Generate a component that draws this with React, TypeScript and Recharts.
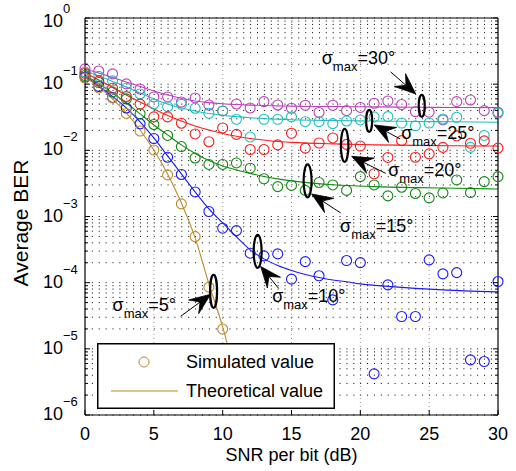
import React from 'react';
import {
  ComposedChart, Line, Scatter, XAxis, YAxis, ReferenceLine, ReferenceDot, Legend,
} from 'recharts';

const FONT = '"Liberation Sans", Arial, Helvetica, sans-serif';

// SNR grid of the simulated points (dB)
const snrSim = [0, 1, 2, 3, 4, 5, 6, 7, 8, 9, 10, 11, 12, 13, 14, 15, 16, 17, 18, 19, 20, 21, 22, 23, 24, 25, 26, 27, 28, 29, 30];
const snrSim5 = [0, 1, 2, 3, 4, 5, 6, 7, 8, 9, 10];

// simulated BER, one list per sigma_max
const sim30 = [0.170, 0.158, 0.143, 0.101, 0.0846, 0.0641, 0.0641, 0.0538, 0.0619, 0.0485, 0.0394, 0.0502, 0.0437, 0.0544, 0.0485, 0.0433, 0.0480, 0.0374, 0.0480, 0.0398, 0.0445, 0.0514, 0.0557, 0.0493, 0.0385, 0.0377, 0.0288, 0.0544, 0.0577, 0.0398, 0.0377];
const sim25 = [0.153, 0.131, 0.112, 0.0867, 0.0711, 0.0502, 0.0457, 0.0497, 0.0433, 0.0363, 0.0394, 0.0295, 0.0159, 0.0295, 0.0295, 0.0320, 0.0271, 0.0271, 0.0253, 0.0278, 0.0288, 0.0320, 0.0323, 0.0259, 0.0235, 0.0259, 0.0298, 0.0316, 0.0111, 0.0168, 0.0363];
const sim20 = [0.146, 0.112, 0.0867, 0.0652, 0.0499, 0.0320, 0.0320, 0.0257, 0.0177, 0.0135, 0.0218, 0.0174, 0.0103, 0.0103, 0.0121, 0.0181, 0.0108, 0.0129, 0.0154, 0.0123, 0.0116, 0.00443, 0.00781, 0.0140, 0.00787, 0.00883, 0.0111, 0.0165, 0.0128, 0.0139, 0.0108];
const sim15 = [0.135, 0.106, 0.0762, 0.0598, 0.0357, 0.0246, 0.0168, 0.0114, 0.00767, 0.00612, 0.00612, 0.00645, 0.00537, 0.00372, 0.00283, 0.00295, 0.00248, 0.00327, 0.00300, 0.00248, 0.00401, 0.00300, 0.00205, 0.00277, 0.00223, 0.00191, 0.00227, 0.00357, 0.00230, 0.00337, 0.00401];
const sim10 = [0.127, 0.0923, 0.0630, 0.0437, 0.0252, 0.0151, 0.00787, 0.00432, 0.00235, 0.00119, 0.000666, 0.000612, 0.000279, 0.000254, 0.000272, 0.000113, 0.000208, 0.000127, 5.5e-5, 0.000216, 0.000201, 4.19e-6, 9.27e-5, 3.08e-5, 3.08e-5, 0.000221, 0.000136, 0.000142, 6.82e-6, 6.43e-6, 0.000104];
const sim5 = [0.124, 0.0877, 0.0619, 0.0361, 0.0196, 0.0101, 0.00425, 0.00155, 0.000497, 8.55e-5, 1.99e-5];

// theoretical curves
const snrTh = [0, 1, 2, 3, 4, 5, 6, 7, 8, 9, 10, 11, 12, 13, 14, 15, 18, 21, 24, 27, 30];
const th30 = [0.170, 0.148, 0.126, 0.108, 0.0923, 0.0789, 0.0687, 0.0608, 0.0557, 0.0526, 0.0506, 0.0492, 0.0482, 0.0475, 0.0470, 0.0465, 0.0459, 0.0453, 0.0448, 0.0445, 0.0442];
const th25 = [0.158, 0.133, 0.110, 0.0908, 0.0736, 0.0598, 0.0502, 0.0437, 0.0394, 0.0361, 0.0339, 0.0323, 0.0311, 0.0302, 0.0296, 0.0290, 0.0282, 0.0277, 0.0273, 0.0270, 0.0266];
const th20 = [0.148, 0.116, 0.0891, 0.0687, 0.0538, 0.0422, 0.0337, 0.0278, 0.0234, 0.0203, 0.0180, 0.0163, 0.0151, 0.0143, 0.0136, 0.0132, 0.0125, 0.0121, 0.0119, 0.0117, 0.0116];
const th15 = [0.138, 0.101, 0.0736, 0.0520, 0.0355, 0.0242, 0.0171, 0.0121, 0.00898, 0.00704, 0.00581, 0.00506, 0.00448, 0.00403, 0.00370, 0.00345, 0.00302, 0.00283, 0.00273, 0.00267, 0.00261];
const snrTh10 = [0, 1, 2, 3, 4, 5, 6, 7, 8, 9, 10, 11, 12, 13, 14, 15, 16, 17, 18, 19, 20, 22, 24, 26, 28, 30];
const th10 = [0.133, 0.0940, 0.0652, 0.0437, 0.0269, 0.0154, 0.00823, 0.00440, 0.00235, 0.00130, 0.000800, 0.000492, 0.000313, 0.000229, 0.000182, 0.000153, 0.000133, 0.000120, 0.000110, 0.000103, 9.59e-5, 8.79e-5, 8.20e-5, 7.78e-5, 7.46e-5, 7.26e-5];
const snrTh5 = [0, 1, 2, 3, 4, 5, 6, 7, 8, 9, 10, 11];
const th5 = [0.128, 0.0908, 0.0598, 0.0367, 0.0203, 0.0101, 0.00440, 0.00160, 0.000475, 9.59e-5, 2.15e-5, 3.4e-6];

const xTicks = [0, 5, 10, 15, 20, 25, 30];
const decades = [1e-6, 1e-5, 1e-4, 1e-3, 1e-2, 1e-1, 1];
const minorSteps = [2, 3, 4, 5, 6, 7, 8, 9];
const legendLabels = ['Simulated value', 'Theoretical value'];

const yTicks: number[] = [];
decades.forEach((d, i) => {
  yTicks.push(d);
  if (i < decades.length - 1) minorSteps.forEach((m) => yTicks.push(d * m));
});

const zip = (xs: number[], ys: number[]) => ys.map((y, i) => ({ x: xs[i], y }));

const series = [
  { key: '30', color: '#bf3fbf', sim: zip(snrSim, sim30), th: zip(snrTh, th30) },
  { key: '25', color: '#1fbfbf', sim: zip(snrSim, sim25), th: zip(snrTh, th25) },
  { key: '20', color: '#ff1a1a', sim: zip(snrSim, sim20), th: zip(snrTh, th20) },
  { key: '15', color: '#108a10', sim: zip(snrSim, sim15), th: zip(snrTh, th15) },
  { key: '10', color: '#1a1aff', sim: zip(snrSim, sim10), th: zip(snrTh10, th10) },
  { key: '5', color: '#bf8a2a', sim: zip(snrSim5, sim5), th: zip(snrTh5, th5) },
];

// annotation anchors (SNR, BER) with pixel offsets for arrow and label
const notes = [
  { label: '=30°', x: 24.46, y: 0.0469, rx: 3, ry: 11, tail: [-31, -34], tip: [-6, -12], text: [-100, -42] },
  { label: '=25°', x: 20.64, y: 0.0278, rx: 3, ry: 11, tail: [31, 18], tip: [5, 4], text: [32, 18] },
  { label: '=20°', x: 18.86, y: 0.0119, rx: 3.8, ry: 16.5, tail: [41, 28], tip: [7, 11], text: [43.5, 30.5] },
  { label: '=15°', x: 16.17, y: 0.00345, rx: 4, ry: 16.5, tail: [33, 32], tip: [4, 13], text: [32.5, 51] },
  { label: '=10°', x: 12.54, y: 0.000297, rx: 4, ry: 16.5, tail: [21, 37], tip: [3, 15], text: [14.5, 50.5] },
  { label: '=5°', x: 9.34, y: 7.39e-5, rx: 3.5, ry: 16.5, tail: [-33, 25], tip: [-3, 3], text: [-101, 19.5] },
];

const isDecade = (v: number) => Math.abs(Math.log10(v) - Math.round(Math.log10(v))) < 1e-6;

function Arrow({ x1, y1, x2, y2 }: { x1: number; y1: number; x2: number; y2: number }) {
  const dx = x2 - x1;
  const dy = y2 - y1;
  const len = Math.hypot(dx, dy);
  const ux = dx / len;
  const uy = dy / len;
  const px = -uy;
  const py = ux;
  const L = 21;
  const W = 8.5;
  const bx = x2 - L * ux;
  const by = y2 - L * uy;
  const nx = x2 - L * 0.62 * ux;
  const ny = y2 - L * 0.62 * uy;
  const pts = `${x2},${y2} ${bx + W * px},${by + W * py} ${nx},${ny} ${bx - W * px},${by - W * py}`;
  return (
    <g>
      <line x1={x1} y1={y1} x2={nx} y2={ny} stroke="#000" strokeWidth={1} />
      <polygon points={pts} fill="#000" stroke="#000" strokeWidth={0.8} strokeLinejoin="miter" />
    </g>
  );
}

const makeNote = (n: typeof notes[number]) => (props: any) => {
  const { cx, cy } = props;
  if (cx == null || cy == null) return <g />;
  return (
    <g>
      <ellipse cx={cx} cy={cy} rx={n.rx} ry={n.ry} fill="none" stroke="#000" strokeWidth={2.2} />
      <Arrow x1={cx + n.tail[0]} y1={cy + n.tail[1]} x2={cx + n.tip[0]} y2={cy + n.tip[1]} />
      <text x={cx + n.text[0]} y={cy + n.text[1]} fontSize={18} fontFamily={FONT} fill="#000">
        σ<tspan dy={7} fontSize={13}>max</tspan><tspan dy={-7}>{n.label}</tspan>
      </text>
    </g>
  );
};

const LeftTick = ({ x, y, payload }: any) => {
  const v = payload.value;
  const major = isDecade(v);
  const exp = Math.round(Math.log10(v));
  return (
    <g>
      <line x1={x} x2={x + (major ? 5 : 3)} y1={y} y2={y} stroke="#000" strokeWidth={1} />
      {major && (
        <text x={x - 42} y={y + 5 + (exp === 0 ? 4 : 0)} fontSize={18} fontFamily={FONT} fill="#000">
          10<tspan dy={-14} fontSize={13}>{exp === 0 ? '0' : `\u2212${-exp}`}</tspan>
        </text>
      )}
    </g>
  );
};

const RightTick = ({ x, y, payload }: any) => {
  const major = isDecade(payload.value);
  return <line x1={x} x2={x - (major ? 5 : 3)} y1={y} y2={y} stroke="#000" strokeWidth={1} />;
};

const BottomTick = ({ x, y, payload }: any) => (
  <g>
    <line x1={x} x2={x} y1={y} y2={y - 5} stroke="#000" strokeWidth={1} />
    <text x={x} y={y + 25} textAnchor="middle" fontSize={18} fontFamily={FONT} fill="#000">
      {payload.value}
    </text>
  </g>
);

const TopTick = ({ x, y }: any) => (
  <line x1={x} x2={x} y1={y} y2={y + 5} stroke="#000" strokeWidth={1} />
);

const LegendBox = () => (
  <svg width={238} height={66} style={{ display: 'block' }}>
    <rect x={0.75} y={0.75} width={236.5} height={64.5} fill="#fff" stroke="#000" strokeWidth={1.5} />
    <circle cx={47} cy={19} r={5} fill="none" stroke={series[5].color} strokeWidth={1} />
    <text x={89} y={25} fontSize={18} fontFamily={FONT} fill="#000">{legendLabels[0]}</text>
    <line x1={14} x2={81} y1={48} y2={48} stroke={series[5].color} strokeWidth={1} />
    <text x={89} y={53.5} fontSize={18} fontFamily={FONT} fill="#000">{legendLabels[1]}</text>
  </svg>
);

export default function App() {
  return (
    <div style={{ position: 'absolute', left: 0, top: 0, background: '#fff' }}>
      <ComposedChart width={516} height={471} margin={{ top: 17, right: 17, bottom: 26, left: 0 }}>
        <XAxis
          dataKey="x" type="number" domain={[0, 30]} ticks={xTicks} interval={0}
          height={30} tickSize={0} tickMargin={0} tick={BottomTick}
          axisLine={{ stroke: '#000', strokeWidth: 1.2 }} tickLine={false}
          label={{
            content: ({ viewBox }: any) => (
              <text x={viewBox.x + viewBox.width / 2} y={viewBox.y + 46} textAnchor="middle"
                fontSize={18} fontFamily={FONT} fill="#000">SNR per bit (dB)</text>
            ),
          }}
        />
        <XAxis
          xAxisId="t" orientation="top" type="number" domain={[0, 30]} ticks={xTicks} interval={0}
          height={1} tickSize={0} tickMargin={0} tick={TopTick}
          axisLine={{ stroke: '#000', strokeWidth: 1.2 }} tickLine={false}
        />
        <YAxis
          dataKey="y" type="number" scale="log" domain={[1e-6, 1]} allowDataOverflow ticks={yTicks} interval={0}
          width={85} tickSize={0} tickMargin={0} tick={LeftTick}
          axisLine={{ stroke: '#000', strokeWidth: 1.2 }} tickLine={false}
          label={{
            content: () => (
              <text x={28} y={223} transform="rotate(-90, 28, 223)" textAnchor="middle"
                fontSize={21} fontFamily={FONT} fill="#000">Average BER</text>
            ),
          }}
        />
        <YAxis
          yAxisId="r" orientation="right" type="number" scale="log" domain={[1e-6, 1]} allowDataOverflow
          ticks={yTicks} interval={0} width={1} tickSize={0} tickMargin={0} tick={RightTick}
          axisLine={{ stroke: '#000', strokeWidth: 1.2 }} tickLine={false}
        />

        {yTicks.map((v) => (
          <ReferenceLine key={`h${v}`} y={v} stroke="#000" strokeWidth={1} strokeDasharray="1 5.88" />
        ))}
        {xTicks.slice(1, -1).map((v) => (
          <ReferenceLine key={`v${v}`} x={v} stroke="#999" strokeWidth={1} strokeDasharray="1 3" />
        ))}

        {series.map((s) => (
          <Line
            key={`th${s.key}`} data={s.th} dataKey="y" type="monotone" stroke={s.color}
            strokeWidth={1.1} dot={false} activeDot={false} isAnimationActive={false}
          />
        ))}
        {series.map((s) => (
          <Scatter
            key={`sim${s.key}`} data={s.sim} fill="none" isAnimationActive={false}
            shape={(p: any) => (
              <circle cx={p.cx} cy={p.cy} r={5} fill="none" stroke={s.color} strokeWidth={1.1} />
            )}
          />
        ))}

        {notes.map((n) => (
          <ReferenceDot key={n.label} x={n.x} y={n.y} r={0} shape={makeNote(n)} />
        ))}

        <Legend
          layout="horizontal" verticalAlign="middle" align="center"
          wrapperStyle={{ left: 97, top: 343, width: 238, height: 66 }}
          content={() => <LegendBox />}
        />
      </ComposedChart>
    </div>
  );
}
